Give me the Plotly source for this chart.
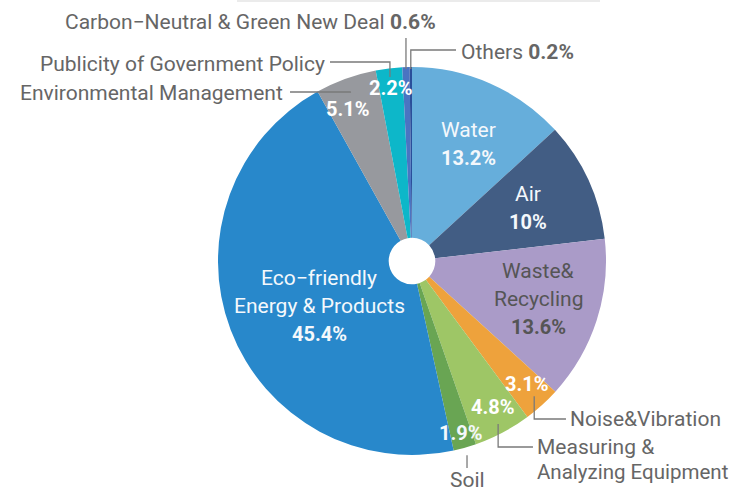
import math
import plotly.graph_objects as go

# ---- data ----
categories = ["Water", "Air", "Waste&Recycling", "Noise&Vibration",
              "Measuring & Analyzing Equipment", "Soil",
              "Eco-friendly Energy & Products", "Environmental Management",
              "Publicity of Government Policy", "Carbon-Neutral & Green New Deal",
              "Others"]
values = [13.2, 10, 13.6, 3.1, 4.8, 1.9, 45.4, 5.1, 2.2, 0.6, 0.2]
pct_labels = ["13.2%", "10%", "13.6%", "3.1%", "4.8%", "1.9%", "45.4%", "5.1%", "2.2%", "0.6%", "0.2%"]
inside_names = [["Water"], ["Air"], ["Waste&", "Recycling"], [], [], [],
                ["Eco\u2212friendly", "Energy & Products"], [], [], [], []]

# ---- style ----
colors = ["#66aedb", "#425d84", "#aa9bc8", "#eea23c", "#9ec666", "#69a553",
          "#2888cb", "#97999e", "#0db7c9", "#4a74c2", "#2a4f9a"]
text_colors = ["#f4f8fc", "#f4f8fc", "#555555", "#ffffff", "#ffffff", "#f4f8fc",
               "#f4f8fc", "#ffffff", "#ffffff", "#ffffff", "#ffffff"]
label_r = [0.67, 0.66, 0.68, 0.87, 0.86, 0.92, 0.53, 0.85, 0.90, 0, 0]
label_dang = [2, 0, -1, -1, -1, 0, -5, -3, 0, 0, 0]
FONT = "Roboto"

W, H = 732, 493
CX, CY, R = 412, 261, 194


def px(x, y):
    return x / W, 1 - y / H


total = sum(values)
mids = []
cum = 0
for v in values:
    mids.append((cum + v / 2) / total * 360)
    cum += v


def polar(ang, rf):
    a = math.radians(ang)
    return CX + rf * R * math.sin(a), CY - rf * R * math.cos(a)


fig = go.Figure(go.Pie(
    labels=categories, values=values, sort=False, direction="clockwise",
    rotation=0, hole=0.12, textinfo="none", hoverinfo="skip",
    marker=dict(colors=colors, line=dict(width=0)),
    domain=dict(x=[(CX - R) / W, (CX + R) / W], y=[1 - (CY + R) / H, 1 - (CY - R) / H]),
    showlegend=False,
))

annotations = []
# inside labels
LS = 28
for i in range(len(values)):
    if label_r[i] == 0:
        continue
    lines = inside_names[i] + ["<b>%s</b>" % pct_labels[i]]
    x0, y0 = polar(mids[i] + label_dang[i], label_r[i])
    n = len(lines)
    for j, t in enumerate(lines):
        yy = y0 + (j - (n - 1) / 2) * LS
        ax, ay = px(x0, yy)
        annotations.append(dict(x=ax, y=ay, xref="paper", yref="paper", text=t,
                                showarrow=False, xanchor="center", yanchor="middle",
                                font=dict(family=FONT, size=21 if j < n - 1 else 20,
                                          color=text_colors[i])))

shapes = []
LINE = dict(color="#7a7a7a", width=1.3)


def leader(i, rf, pts):
    x0, y0 = polar(mids[i], rf)
    xs, ys = [x0], [y0]
    cx, cy = x0, y0
    for kind, val in pts:
        if kind == "v":
            cy = val
        else:
            cx = val
        xs.append(cx); ys.append(cy)
    d = "M " + " L ".join("%.4f,%.4f" % px(a, b) for a, b in zip(xs, ys))
    shapes.append(dict(type="path", path=d, xref="paper", yref="paper", line=LINE))
    return xs[-1], ys[-1]

OUT = dict(family=FONT, size=21, color="#666666")

# Carbon-Neutral 0.6%
leader(9, 0.99, [("v", 38)])
annotations.append(dict(x=438 / W, y=1 - 22 / H, xref="paper", yref="paper",
                        text=categories[9].replace("-", "\u2212") + " <b>%s</b>" % pct_labels[9],
                        showarrow=False, xanchor="right", yanchor="middle", font=OUT))
# Others 0.2%
ex, ey = leader(10, 0.99, [("v", 50), ("h", 456)])
annotations.append(dict(x=(ex + 3) / W, y=1 - (ey + 2) / H, xref="paper", yref="paper",
                        text=categories[10] + " <b>%s</b>" % pct_labels[10],
                        showarrow=False, xanchor="left", yanchor="middle", font=OUT))
# Publicity
ex, ey = leader(8, 0.955, [("v", 62), ("h", 330)])
annotations.append(dict(x=(ex - 3) / W, y=1 - (ey + 2) / H, xref="paper", yref="paper",
                        text=categories[8], showarrow=False, xanchor="right", yanchor="middle", font=OUT))
# Environmental Management
ex, ey = leader(7, 0.93, [("v", 92), ("h", 290)])
annotations.append(dict(x=(ex - 5) / W, y=1 - (ey + 1) / H, xref="paper", yref="paper",
                        text=categories[7], showarrow=False, xanchor="right", yanchor="middle", font=OUT))
# Noise
ex, ey = leader(3, 0.94, [("v", 419), ("h", 566)])
annotations.append(dict(x=(ex + 2) / W, y=1 - ey / H, xref="paper", yref="paper",
                        text=categories[3], showarrow=False, xanchor="left", yanchor="middle", font=OUT))
# Measuring
ex, ey = leader(4, 0.95, [("v", 447), ("h", 533)])
annotations.append(dict(x=(ex + 2) / W, y=1 - ey / H, xref="paper", yref="paper",
                        text="Measuring &", showarrow=False, xanchor="left", yanchor="middle", font=OUT))
annotations.append(dict(x=(ex + 2) / W, y=1 - (ey + 25) / H, xref="paper", yref="paper",
                        text="Analyzing Equipment", showarrow=False, xanchor="left", yanchor="middle",
                        font=dict(family=FONT, size=20.5, color="#666666")))
# Soil
ex, ey = leader(5, 1.04, [("v", 468)])
annotations.append(dict(x=ex / W, y=1 - (ey + 12) / H, xref="paper", yref="paper",
                        text=categories[5], showarrow=False, xanchor="center", yanchor="middle", font=OUT))

# faint top strip
shapes.append(dict(type="rect", xref="paper", yref="paper", x0=237 / W, x1=600 / W,
                   y0=1 - 2 / H, y1=1, fillcolor="#ebebeb", line=dict(width=0)))

fig.update_layout(width=W, height=H, margin=dict(l=0, r=0, t=0, b=0),
                  paper_bgcolor="white", plot_bgcolor="white",
                  annotations=annotations, shapes=shapes)
fig.write_html("out.html", config={"displayModeBar": False},
               post_script="document.body.style.margin='0';document.body.style.overflow='hidden';")
